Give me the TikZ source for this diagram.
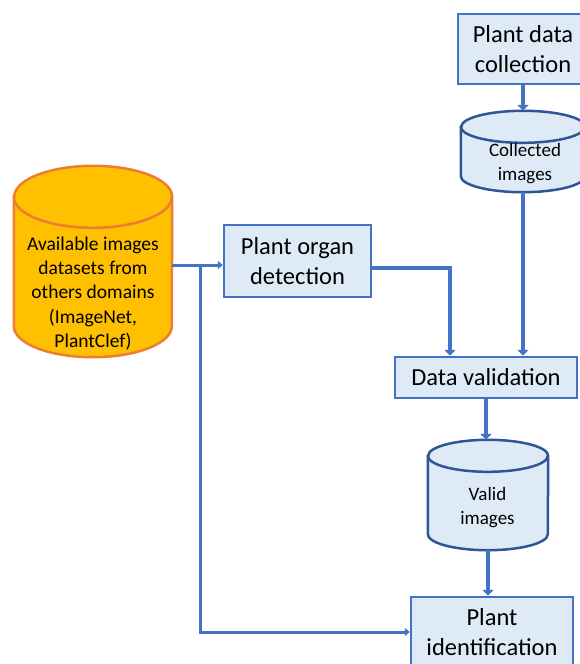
\documentclass[tikz,border=0pt]{standalone}
\usepackage{fontspec}
\setmainfont{Carlito}
\usetikzlibrary{arrows.meta}
\definecolor{boxfill}{HTML}{DEEBF7}
\definecolor{boxline}{HTML}{4472C4}
\definecolor{cylline}{HTML}{2F5597}
\definecolor{orfill}{HTML}{FFC000}
\definecolor{orline}{HTML}{ED7D31}
% cylinder round a plain node: #1 node, #2 x radius, #3 y radius, #4 style
\newcommand\dbshape[4]{%
  \draw[#4] ([yshift=-#3]#1.north west) -- ([yshift=#3]#1.south west)
    arc[start angle=180,end angle=360,x radius=#2,y radius=#3]
    -- ([yshift=-#3]#1.north east)
    arc[start angle=0,end angle=180,x radius=#2,y radius=#3] -- cycle;
  \draw[#4,fill=none] ([yshift=-#3]#1.north west)
    arc[start angle=180,end angle=360,x radius=#2,y radius=#3];}
\begin{document}
\begin{tikzpicture}[x=1pt,y=-1pt,
    box/.style={draw=boxline,fill=boxfill,line width=2.5pt,inner sep=0pt,align=center,
      font=\fontsize{24.5}{30}\selectfont},
    db/.style={inner sep=0pt},
    dbline/.style={draw=cylline,fill=boxfill,line width=2.5pt},
    dborange/.style={draw=orline,fill=orfill,line width=2.5pt},
    dbtext/.style={align=center,font=\fontsize{19}{24}\selectfont},
    flow/.style={draw=boxline,line width=4pt,-{Triangle[width=11pt,length=6pt]}},
    feed/.style={draw=boxline,line width=3pt,-{Triangle[width=8pt,length=5pt]}}]
\useasboundingbox (0,0) rectangle (580,664);

% storage
\node[db,minimum width=124pt,minimum height=81pt] (collimg) at (523,151.5) {};
\dbshape{collimg}{62pt}{16pt}{dbline}
\node[dbtext] (colltxt) at (525,163.5) {Collected\\images};
\node[db,minimum width=120pt,minimum height=110pt] (validimg) at (488,495) {};
\dbshape{validimg}{60pt}{16pt}{dbline}
\node[dbtext] (validtxt) at (487.5,507.5) {Valid\\images};
\node[db,minimum width=158pt,minimum height=191pt] (avail) at (93,261.5) {};
\dbshape{avail}{79pt}{31pt}{dborange}
\node[dbtext,font=\fontsize{19.5}{24.25}\selectfont] (availtxt) at (93,293.5)
  {Available images\\datasets from\\others domains\\(ImageNet,\\PlantClef)};

% steps
\node[box,minimum width=130pt,minimum height=70pt] (collect) at (523,49) {Plant data\\collection};
\node[box,minimum width=147pt,minimum height=72pt] (organ) at (297.5,261) {Plant organ\\detection};
\node[box,minimum width=182pt,minimum height=41pt] (valbox) at (486,377.5) {Data validation};
\node[box,minimum width=162pt,minimum height=70pt] (ident) at (492,632) {Plant\\identification};

% links
\coordinate (split) at (200,265);
\draw[flow] (collect) -- (collimg.north);
\draw[flow] (collimg.south) -- (collimg.south |- valbox.north);
\draw[flow] ([yshift=-7pt]organ.east) -| ([xshift=-36pt]valbox.north);
\draw[flow] (valbox.south) -- (valbox.south |- validimg.north);
\draw[flow] (validimg.south) -- (validimg.south |- ident.north);
\draw[feed] (avail.east |- split) -- (organ.west |- split);
\draw[feed] (split) |- (ident.west);
\end{tikzpicture}
\end{document}
